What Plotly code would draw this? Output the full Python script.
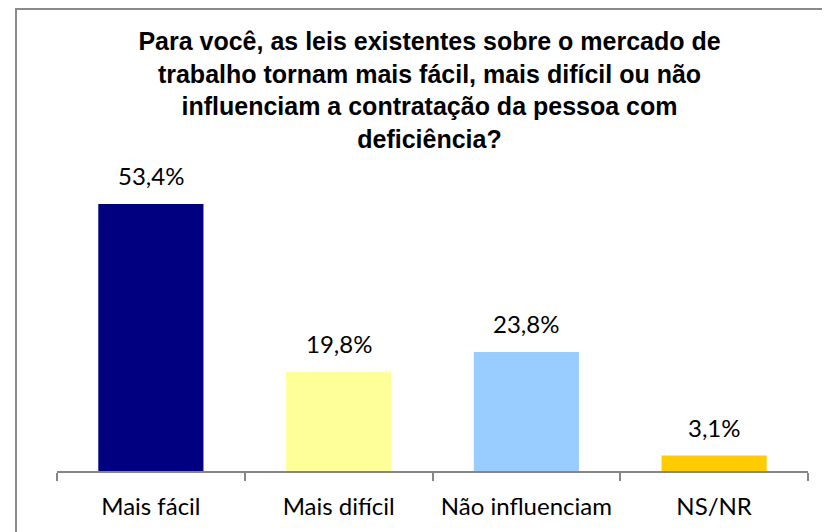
import plotly.graph_objects as go

categories = ["Mais fácil", "Mais difícil", "Não influenciam", "NS/NR"]
values = [53.4, 19.8, 23.8, 3.1]
colors = ["#000080", "#FFFF99", "#99CCFF", "#FFCC00"]
value_labels = [f"{v:.1f}".replace(".", ",") + "%" for v in values]

title_text = ("Para você, as leis existentes sobre o mercado de<br>"
              "trabalho tornam mais fácil, mais difícil ou não<br>"
              "influenciam a contratação da pessoa com<br>"
              "deficiência?")

W, H = 830, 532
OFF = 8  # default page body margin in the browser
# target plot-area edges in window pixels
PX_L, PX_R, PX_T, PX_B = 57, 808, 171, 471
ML = PX_L - OFF
MR = W - (PX_R - OFF)
MT = PX_T - OFF
MB = H - (PX_B - OFF)
YMAX = 60

plot_w = PX_R - PX_L
plot_h = PX_B - PX_T

fig = go.Figure()
fig.add_trace(go.Bar(
    x=categories, y=values,
    marker=dict(color=colors, line=dict(width=0)),
    hoverinfo="skip",
))

label_font = dict(family="Lato, 'Open Sans', sans-serif", size=24, color="#000000")

for c, v, t in zip(categories, values, value_labels):
    fig.add_annotation(
        x=c, y=v, xref="x", yref="y", text=t, showarrow=False,
        yanchor="bottom", yshift=12, font=label_font,
    )

fig.add_shape(
    type="rect", xref="paper", yref="paper",
    x0=(16 - PX_L) / plot_w, x1=1.2,
    y0=-0.4, y1=(PX_B - 9) / plot_h,
    line=dict(color="#8a8a8a", width=2), fillcolor="rgba(0,0,0,0)",
    layer="above",
)

fig.update_layout(
    width=W, height=H,
    margin=dict(l=ML, r=MR, t=MT, b=MB, pad=0),
    paper_bgcolor="#FFFFFF", plot_bgcolor="#FFFFFF",
    bargap=0.44,
    showlegend=False,
    title=dict(
        text=title_text,
        font=dict(family="'Liberation Sans', Arial, sans-serif", size=25,
                  color="#000000", weight="bold"),
        x=(429.5 - PX_L) / plot_w, xref="paper", xanchor="center",
        y=1 - 42 / H, yref="container", yanchor="top",
    ),
    xaxis=dict(
        showline=True, linecolor="#868686", linewidth=1.5,
        ticks="outside", ticklen=8, tickcolor="#868686", tickwidth=1.5,
        tickson="boundaries",
        tickfont=label_font,
        ticklabelstandoff=13,
        showgrid=False, zeroline=False,
        fixedrange=True,
    ),
    yaxis=dict(
        range=[0, YMAX], visible=False, showgrid=False, zeroline=False,
        fixedrange=True,
    ),
)

fig.write_html("out.html")
